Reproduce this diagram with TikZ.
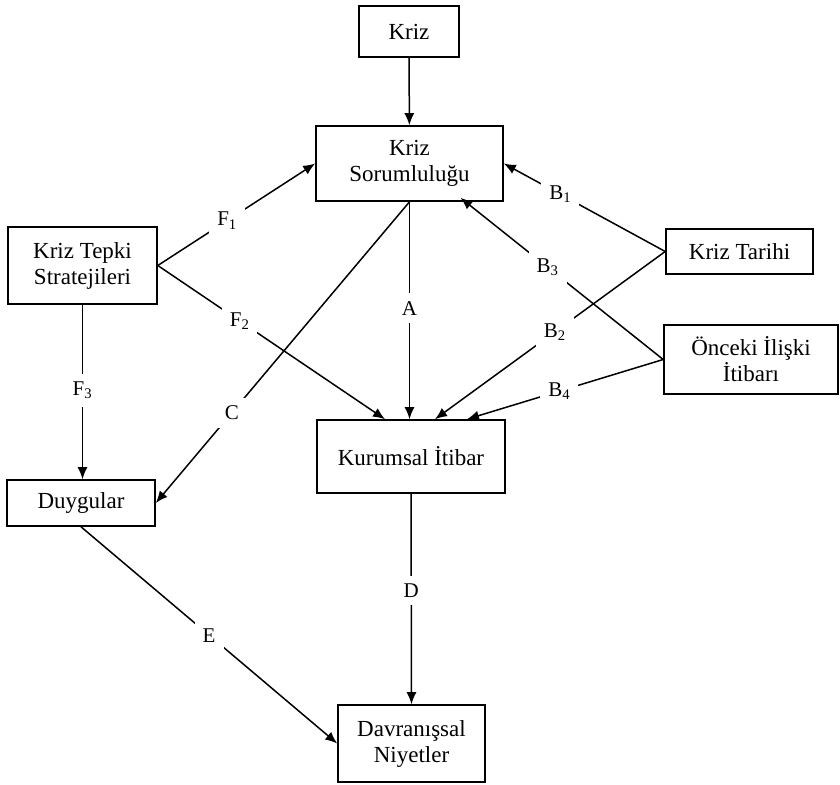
\documentclass[tikz,border=0pt]{standalone}
\usepackage{fontspec}
\setmainfont{Liberation Serif}
\usetikzlibrary{arrows.meta}
\begin{document}
\begin{tikzpicture}[x=1pt,y=-1pt,
  box/.style={draw,line width=1.6pt,inner sep=0pt,align=center,font=\fontsize{23}{26}\selectfont},
  conn/.style={line width=1.5pt,-{Latex[length=12pt,width=10pt]}},
  lab/.style={fill=white,inner sep=8pt,font=\fontsize{21}{24}\selectfont}]
\useasboundingbox[fill=white] (0,0) rectangle (840,784);

\node[box,minimum width=100pt,minimum height=51pt] (kriz) at (409,31.5) {Kriz};
\node[box,minimum width=187pt,minimum height=75pt] (ks) at (409.5,163.5) {Kriz\\Sorumluluğu};
\node[box,minimum width=149pt,minimum height=77pt] (kts) at (82.5,265.5) {Kriz Tepki\\Stratejileri};
\node[box,minimum width=148pt,minimum height=46pt] (duy) at (81,503) {Duygular};
\node[box,minimum width=188pt,minimum height=73pt] (ki) at (411,456.5) {Kurumsal İtibar};
\node[box,minimum width=147pt,minimum height=77pt] (dn) at (411.5,743.5) {Davranışsal\\Niyetler};
\node[box,minimum width=147pt,minimum height=45pt] (kt) at (739.5,251.5) {Kriz Tarihi};
\node[box,minimum width=174pt,minimum height=69pt] (oi) at (751,359.5) {Önceki İlişki\\İtibarı};

\coordinate (kiF2) at ([xshift=-26pt]ki.north);
\coordinate (kiB2) at ([xshift=24pt]ki.north);
\coordinate (kiB4) at ([xshift=56pt]ki.north);
\coordinate (ksB3) at ([xshift=51pt,yshift=4pt]ks.south);

\draw[conn] (kriz) -- (ks);
\draw[conn] (kts.east) -- node[lab,pos=0.44] (lF1) {F\textsubscript{1}} (ks.west);
\draw[conn] (kts.east) -- node[lab,pos=0.36] (lF2) {F\textsubscript{2}} (kiF2);
\draw[conn] (kts.south) -- node[lab,pos=0.49] (lF3) {F\textsubscript{3}} (kts.south |- duy.north);
\draw[conn] (ks.south) -- node[lab,pos=0.70] (lC) {C} (duy.east);
\draw[conn] (ks.south) -- node[lab,pos=0.49] (lA) {A} (ks.south |- ki.north);
\draw[conn] (ki.south) -- node[lab,pos=0.46] (lD) {D} (dn.north);
\draw[conn] (duy.south) -- node[lab,pos=0.5] (lE) {E} (dn.west);
\draw[conn] (kt.west) -- node[lab,pos=0.65] (lB1) {B\textsubscript{1}} (ks.east);
\draw[conn] (kt.west) -- node[lab,pos=0.48] (lB2) {B\textsubscript{2}} (kiB2);
\draw[conn] (oi.west) -- node[lab,pos=0.57] (lB3) {B\textsubscript{3}} (ksB3);
\draw[conn] (oi.west) -- node[lab,pos=0.53] (lB4) {B\textsubscript{4}} (kiB4);
\end{tikzpicture}
\end{document}
